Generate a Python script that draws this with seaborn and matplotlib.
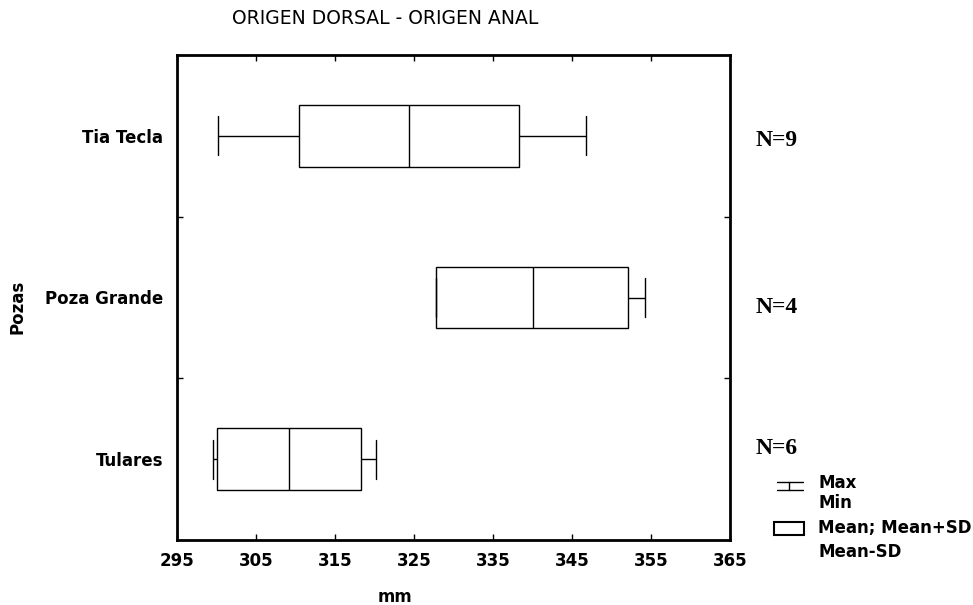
import matplotlib
matplotlib.use("Agg")
import matplotlib.pyplot as plt
import seaborn as sns
import pandas as pd
from matplotlib.lines import Line2D
from matplotlib.patches import Rectangle

# values (mm)
pozas = ["Tia Tecla", "Poza Grande", "Tulares"]
mins = [300.2, 327.8, 299.6]
mean_minus_sd = [310.4, 327.8, 300.1]
means = [324.4, 340.1, 309.2]
mean_plus_sd = [338.3, 352.1, 318.3]
maxs = [346.8, 354.2, 320.2]
n_labels = ["N=9", "N=4", "N=6"]
xticks = [295, 305, 315, 325, 335, 345, 355, 365]

# five points per group -> quartiles = mean-SD / mean / mean+SD, whiskers = min/max
rows = []
for i, p in enumerate(pozas):
    for v in [mins[i], mean_minus_sd[i], means[i], mean_plus_sd[i], maxs[i]]:
        rows.append({"Pozas": p, "mm": v})
df = pd.DataFrame(rows)

sns.set_style("ticks")
plt.rcParams["font.family"] = ["DejaVu Sans"]
plt.rcParams["text.color"] = "black"
plt.rcParams["axes.labelcolor"] = "black"
plt.rcParams["xtick.color"] = "black"
plt.rcParams["ytick.color"] = "black"

fig = plt.figure(figsize=(9.73, 6.05), dpi=100)
ax = fig.add_axes([177 / 973, 1 - 540 / 605, 553 / 973, 485 / 605])

sns.boxplot(data=df, x="mm", y="Pozas", order=pozas, whis=(0, 100),
            width=0.38, color="white", linecolor="black", linewidth=1,
            showfliers=False, capwidths=0.24, ax=ax)

ax.set_xlim(295, 365)
ax.set_ylim(2.5, -0.5)
ax.set_xticks(xticks)
ax.set_xticklabels([str(t) for t in xticks], fontsize=12, fontweight="bold")
ax.set_yticks(range(len(pozas)))
ax.set_yticklabels(pozas, fontsize=12, fontweight="bold")
ax.set_yticks([0.5, 1.5], minor=True)
ax.tick_params(axis="y", which="major", length=0, pad=10)
ax.tick_params(axis="y", which="minor", direction="in", length=4, width=1,
               left=True, right=True)
ax.tick_params(axis="x", direction="in", length=4, width=1, top=True, pad=9)
for s in ax.spines.values():
    s.set_visible(True)
    s.set_linewidth(2)
    s.set_color("black")

ax.set_ylabel("")
ax.set_xlabel("mm", fontsize=12, fontweight="bold")
ax.xaxis.set_label_coords(0.394, -0.1)

fig.text(232 / 973, 1 - 18 / 605, "ORIGEN DORSAL - ORIGEN ANAL",
         fontsize=13.5, ha="left", va="center")
fig.text(17 / 973, 1 - 307 / 605, "Pozas", rotation=90, fontsize=12,
         fontweight="bold", ha="center", va="center")

# N labels
n_y = [140, 308, 448]
for lab, yy in zip(n_labels, n_y):
    fig.text(756 / 973, 1 - yy / 605, lab, fontsize=17, fontweight="bold",
             family="Liberation Serif", ha="left", va="center")

# legend
W, H = 973, 605
def fx(x):
    return x / W
def fy(y):
    return 1 - y / H

for y in (482, 490):
    fig.add_artist(Line2D([fx(777), fx(803)], [fy(y), fy(y)], color="black", lw=1))
fig.add_artist(Line2D([fx(789), fx(789)], [fy(482), fy(490)], color="black", lw=1))
fig.add_artist(Rectangle((fx(774), fy(535)), fx(804) - fx(774), fy(522) - fy(535),
                         transform=fig.transFigure, fill=False, ec="black", lw=1.5))
leg_txt = [("Max", 483), ("Min", 503), ("Mean; Mean+SD", 528), ("Mean-SD", 552)]
for t, y in leg_txt:
    fig.text(fx(818), fy(y), t, fontsize=12, fontweight="bold", ha="left", va="center")

fig.savefig("out.png", dpi=100)
